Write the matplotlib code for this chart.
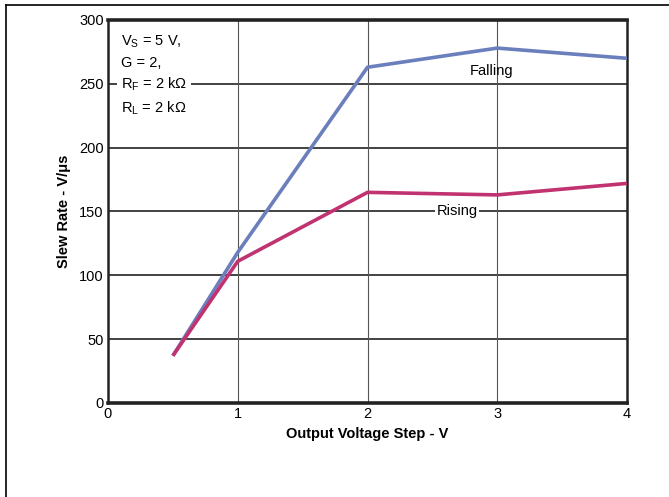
import matplotlib
matplotlib.use("Agg")
import matplotlib.pyplot as plt
from matplotlib.lines import Line2D

plt.rcParams['font.family'] = ['Liberation Sans', 'DejaVu Sans']

x_steps = [0.5, 1, 2, 3, 4]
falling = [37, 118, 263, 278, 270]
rising = [37, 111, 165, 163, 172]
x_ticks = [0, 1, 2, 3, 4]
y_ticks = [0, 50, 100, 150, 200, 250, 300]

fig = plt.figure(figsize=(6.69, 4.97), dpi=100)
ax = fig.add_axes([108/669, 1-403/497, (627-108)/669, (403-20)/497])

ax.set_xlim(0, 4)
ax.set_ylim(0, 300)
ax.set_xticks(x_ticks)
ax.set_yticks(y_ticks)
ax.tick_params(length=0, labelsize=10.5, pad=3)

for y in y_ticks[1:-1]:
    ax.axhline(y, color='#222222', lw=1.2, zorder=1)
for xv in x_ticks[1:-1]:
    ax.axvline(xv, color='#555555', lw=0.8, zorder=1)

ax.plot(x_steps, falling, color='#6b7fbd', lw=2.6, zorder=3, solid_capstyle='butt')
ax.plot(x_steps, rising, color='#c13270', lw=2.6, zorder=3, solid_capstyle='butt')

for side in ['top', 'bottom']:
    ax.spines[side].set_linewidth(2.6)
    ax.spines[side].set_color('#222222')
for side in ['left', 'right']:
    ax.spines[side].set_linewidth(1.8)
    ax.spines[side].set_color('#222222')

ax.set_xlabel('Output Voltage Step - V', fontsize=10.5, fontweight='bold', labelpad=4)
ax.set_ylabel('Slew Rate - V/\u03bcs', fontsize=10.5, fontweight='bold', labelpad=6)

ax.text(0.10, 283, r'V$_\mathregular{S}$ = 5 V,', fontsize=10.5, va='center', zorder=4)
ax.text(0.10, 266, 'G = 2,', fontsize=10.5, va='center', zorder=4)
ax.text(0.10, 250, r'R$_\mathregular{F}$ = 2 k' + '\u03a9', fontsize=10.5, va='center', zorder=4,
        bbox=dict(facecolor='white', edgecolor='none', pad=3))
ax.text(0.10, 231, r'R$_\mathregular{L}$ = 2 k' + '\u03a9', fontsize=10.5, va='center', zorder=4)

ax.text(2.96, 260, 'Falling', fontsize=10.5, ha='center', va='center', zorder=4)
ax.text(2.69, 150, 'Rising', fontsize=10.5, ha='center', va='center', zorder=4,
        bbox=dict(facecolor='white', edgecolor='none', pad=1))

# outer border lines
fig.add_artist(Line2D([6/669, 1], [1-5/497, 1-5/497], transform=fig.transFigure, color='black', lw=1.2))
fig.add_artist(Line2D([6/669, 6/669], [0, 1-5/497], transform=fig.transFigure, color='black', lw=1.2))

fig.savefig('out.png', dpi=100)
